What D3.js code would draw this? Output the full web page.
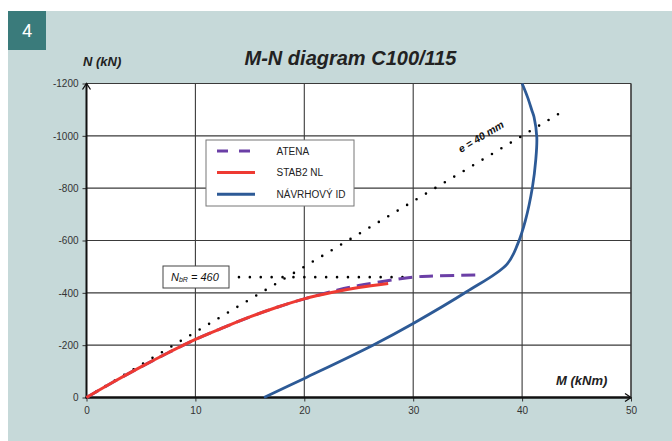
<!DOCTYPE html>
<html><head><meta charset="utf-8">
<script src="https://cdn.jsdelivr.net/npm/d3@7"></script>
<style>
html,body{margin:0;padding:0;background:#fff;}
svg{display:block;font-family:"Liberation Sans",Arial,sans-serif;}
</style></head>
<body>
<svg id="c" width="672" height="441"></svg>
<script>
// ---- data ----
const mTicks = [0, 10, 20, 30, 40, 50];
const nTicks = [0, -200, -400, -600, -800, -1000, -1200];

const atenaM = [0, 2.5, 5, 7.5, 10, 12.5, 15, 17.5, 20, 23, 25, 27.6, 30, 32.2, 36.2];
const atenaN = [0, -60, -117, -171, -222, -266, -308, -345, -377, -410, -428, -446, -460, -465, -468];

const stabM = [0, 2.5, 5, 7.5, 10, 12.5, 15, 17.5, 20, 22.5, 25, 27.7];
const stabN = [0, -60, -117, -171, -222, -266, -308, -345, -377, -401, -420, -436];

const idM = [16.3, 20, 26.3, 30, 34.9, 38.6, 39.6, 40.3, 40.95, 41.25, 41.35, 41.1, 40.9, 40.5, 40.0];
const idN = [0, -73, -200, -283, -404, -509, -587, -676, -804, -906, -995, -1071, -1097, -1148, -1200];

const eLineM = [0, 43.6];
const eLineN = [0, -1090];

const nbrM = [14, 29.1];
const nbrN = [-460, -460];

const legendNames = ["ATENA", "STAB2 NL", "NÁVRHOVÝ ID"];
const colors = {atena: "#6b3fa6", stab: "#ee3a32", id: "#2d5a96"};

// ---- layout ----
const svg = d3.select("#c");
svg.append("rect").attr("x", 8).attr("y", 11).attr("width", 664).attr("height", 430).attr("fill", "#c6d9d9");
svg.append("rect").attr("x", 8).attr("y", 11).attr("width", 38).attr("height", 39).attr("fill", "#3a7b7b");
svg.append("text").attr("x", 27).attr("y", 37).attr("text-anchor", "middle").attr("fill", "#fff")
  .attr("font-size", 18).attr("font-family", "Roboto, sans-serif").text("4");

const x = d3.scaleLinear().domain([0, 50]).range([86.5, 631]);
const y = d3.scaleLinear().domain([0, -1200]).range([397.5, 83.5]);

// plot area
svg.append("rect").attr("x", x(0)).attr("y", y(-1200)).attr("width", x(50) - x(0)).attr("height", y(0) - y(-1200))
  .attr("fill", "#fff");

// grid
const g = svg.append("g");
g.selectAll("line.vg").data(mTicks.filter(d => d > 0)).join("line")
  .attr("x1", d => x(d)).attr("x2", d => x(d)).attr("y1", y(0)).attr("y2", y(-1200))
  .attr("stroke", "#3a3a3a").attr("stroke-width", 1.1);
g.selectAll("line.hg").data(nTicks.filter(d => d < 0)).join("line")
  .attr("x1", x(0)).attr("x2", x(50)).attr("y1", d => y(d)).attr("y2", d => y(d))
  .attr("stroke", "#3a3a3a").attr("stroke-width", 1.1);

// axes with d3
const yAxis = d3.axisLeft(y).tickValues(nTicks).tickSize(4).tickPadding(4).tickFormat(d => d === 0 ? "0" : "-" + Math.abs(d));
const ya = svg.append("g").attr("transform", `translate(${x(0)},0)`).call(yAxis);
ya.select(".domain").remove();
ya.selectAll("text").attr("font-size", 10).attr("fill", "#333").attr("font-family", "Liberation Sans, Arial, sans-serif");
ya.selectAll("line").attr("stroke", "#333");

const xAxis = d3.axisBottom(x).tickValues(mTicks).tickSize(4).tickPadding(5);
const xa = svg.append("g").attr("transform", `translate(0,${y(0)})`).call(xAxis);
xa.select(".domain").remove();
xa.selectAll("text").attr("font-size", 10).attr("fill", "#333").attr("font-family", "Liberation Sans, Arial, sans-serif");
xa.selectAll("line").attr("stroke", "#333");

// axis lines
svg.append("line").attr("x1", x(0)).attr("x2", x(50)).attr("y1", y(0)).attr("y2", y(0)).attr("stroke", "#111").attr("stroke-width", 2.6);
svg.append("line").attr("x1", x(0)).attr("x2", x(0)).attr("y1", y(0)).attr("y2", y(-1200)).attr("stroke", "#111").attr("stroke-width", 2);
// arrows
svg.append("path").attr("d", `M${x(50) - 6},${y(0) - 4} L${x(50)},${y(0)} L${x(50) - 6},${y(0) + 4}`).attr("fill", "none").attr("stroke", "#111").attr("stroke-width", 1.3);
svg.append("path").attr("d", `M${x(0) - 4},${y(-1200) + 6} L${x(0)},${y(-1200)} L${x(0) + 4},${y(-1200) + 6}`).attr("fill", "none").attr("stroke", "#111").attr("stroke-width", 1.3);

// lines
const toPts = (ms, ns) => ms.map((m, i) => [m, ns[i]]);
const line = d3.line().x(d => x(d[0])).y(d => y(d[1])).curve(d3.curveCatmullRom.alpha(0.5));
const lineLin = d3.line().x(d => x(d[0])).y(d => y(d[1]));

// dotted reference lines
svg.append("path").attr("d", lineLin(toPts(eLineM, eLineN))).attr("fill", "none").attr("stroke", "#000")
  .attr("stroke-width", 2.6).attr("stroke-linecap", "round").attr("stroke-dasharray", "0 11");
svg.append("path").attr("d", lineLin(toPts(nbrM, nbrN))).attr("fill", "none").attr("stroke", "#000")
  .attr("stroke-width", 2.6).attr("stroke-linecap", "round").attr("stroke-dasharray", "0 10.9");

svg.append("path").attr("d", line(toPts(atenaM, atenaN))).attr("fill", "none").attr("stroke", colors.atena)
  .attr("stroke-width", 3).attr("stroke-dasharray", "14 7");
svg.append("path").attr("d", line(toPts(stabM, stabN))).attr("fill", "none").attr("stroke", colors.stab)
  .attr("stroke-width", 3);
svg.append("path").attr("d", line(toPts(idM, idN))).attr("fill", "none").attr("stroke", colors.id)
  .attr("stroke-width", 2.8);

// right border
svg.append("line").attr("x1", x(50)).attr("x2", x(50)).attr("y1", y(0)).attr("y2", y(-1200)).attr("stroke", "#3a3a3a").attr("stroke-width", 1.1);

// e = 40 mm label
const ang = Math.atan2(y(eLineN[1]) - y(0), x(eLineM[1]) - x(0)) * 180 / Math.PI;
svg.append("text").attr("transform", `translate(${x(36.4)},${y(-985)}) rotate(${ang})`)
  .attr("text-anchor", "middle").attr("font-size", 10.5).attr("font-weight", "bold").attr("font-style", "italic")
  .attr("fill", "#111").text("e = 40 mm");

// NbR label
svg.append("rect").attr("x", 163).attr("y", 266).attr("width", 66).attr("height", 22).attr("fill", "#fff")
  .attr("stroke", "#444").attr("stroke-width", 1);
const nt = svg.append("text").attr("x", 171).attr("y", 281).attr("font-size", 11).attr("font-style", "italic").attr("fill", "#111");
nt.append("tspan").text("N");
nt.append("tspan").attr("font-size", 7).attr("dy", 1).text("bR");
nt.append("tspan").attr("dy", -1).text(" = 460");

// legend
const lg = svg.append("g");
lg.append("rect").attr("x", 206).attr("y", 140).attr("width", 148).attr("height", 66).attr("fill", "#fff")
  .attr("stroke", "#777").attr("stroke-width", 1);
const ly = [151, 172.5, 194.3];
const lc = [colors.atena, colors.stab, colors.id];
legendNames.forEach((n, i) => {
  lg.append("line").attr("x1", 217).attr("x2", i === 0 ? 251 : 255).attr("y1", ly[i]).attr("y2", ly[i])
    .attr("stroke", lc[i]).attr("stroke-width", 3).attr("stroke-dasharray", i === 0 ? "11 11" : null);
  lg.append("text").attr("x", 276.5).attr("y", ly[i] + 3.6).attr("font-size", 10).attr("fill", "#222").text(n);
});

// titles
svg.append("text").attr("x", 350.5).attr("y", 65).attr("text-anchor", "middle").attr("font-size", 20)
  .attr("font-weight", "bold").attr("font-style", "italic").attr("fill", "#222").text("M-N diagram C100/115");
svg.append("text").attr("x", 83).attr("y", 65.5).attr("font-size", 13)
  .attr("font-weight", "bold").attr("font-style", "italic").attr("fill", "#222").text("N (kN)");
svg.append("text").attr("x", 556).attr("y", 384.5).attr("font-size", 13)
  .attr("font-weight", "bold").attr("font-style", "italic").attr("fill", "#222").text("M (kNm)");
</script>
</body></html>
